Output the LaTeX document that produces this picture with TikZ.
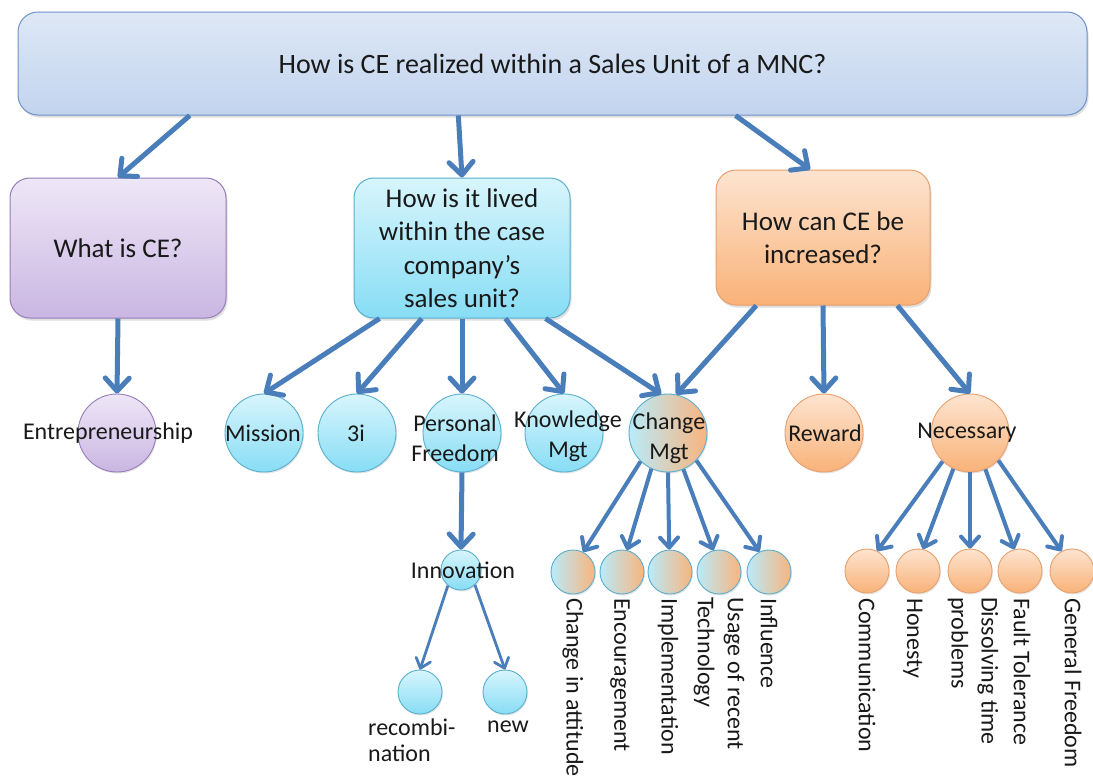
\documentclass[tikz,border=0pt]{standalone}
\usepackage{fontspec}
\setmainfont{Carlito}
\usetikzlibrary{arrows.meta,calc,shadows}
\definecolor{arrowblue}{RGB}{74,126,187}
\definecolor{tpT}{RGB}{222,232,246}
\definecolor{tpB}{RGB}{194,212,238}
\definecolor{tpD}{RGB}{110,145,200}
\definecolor{puT}{RGB}{238,231,247}
\definecolor{puB}{RGB}{202,182,226}
\definecolor{puD}{RGB}{150,125,185}
\definecolor{cyT}{RGB}{216,245,252}
\definecolor{cyB}{RGB}{135,221,245}
\definecolor{cyD}{RGB}{90,175,205}
\definecolor{orT}{RGB}{253,228,208}
\definecolor{orB}{RGB}{249,178,120}
\definecolor{orD}{RGB}{232,160,110}
\definecolor{cyM}{RGB}{185,235,250}
\definecolor{orM}{RGB}{249,180,125}
\definecolor{txt}{RGB}{25,25,25}
\begin{document}
\begin{tikzpicture}[x=1pt,y=-1pt,
  qbox/.style={rounded corners=20pt, line width=1pt, align=center, inner sep=0pt, text=txt,
    font=\fontsize{27}{33.5}\selectfont,
    drop shadow={shadow xshift=1.5pt, shadow yshift=-2.5pt, opacity=0.25}},
  bubble/.style={circle, inner sep=0pt, line width=0.9pt,
    drop shadow={shadow xshift=1pt, shadow yshift=-1.5pt, opacity=0.2}},
  big/.style={bubble, minimum size=78pt},
  small/.style={bubble, minimum size=44pt},
  cyanf/.style={top color=cyT, bottom color=cyB, draw=cyD},
  purf/.style={top color=puT, bottom color=puB, draw=puD},
  oranf/.style={top color=orT, bottom color=orB, draw=orD},
  mixf/.style={left color=cyM, right color=orM, draw=cyD},
  lbl/.style={font=\fontsize{24}{30}\selectfont, align=center, inner sep=0pt, text=txt},
  rlbl/.style={font=\fontsize{24}{30}\selectfont, rotate=-90, anchor=west, align=left, inner sep=0pt, text=txt},
  conn/.style={draw=arrowblue, line width=5pt, -{Straight Barb[length=13pt,width=24pt,round]}},
  connm/.style={draw=arrowblue, line width=4pt, -{Straight Barb[length=10pt,width=18pt,round]}},
  conns/.style={draw=arrowblue, line width=2.8pt, -{Straight Barb[length=9pt,width=15pt,round]}}
]
\useasboundingbox (0,0) rectangle (1093,780);
\fill[white] (0,0) rectangle (1093,780);

% boxes
\node[qbox, top color=tpT, bottom color=tpB, draw=tpD, minimum width=1069pt, minimum height=103pt,
  font=\fontsize{28}{32}\selectfont] (top) at (552.5,63.5) {How is CE realized within a Sales Unit of a MNC?};
\node[qbox, purf, minimum width=216pt, minimum height=140pt] (whatis) at (118,248) {What is CE?};
\node[qbox, cyanf, minimum width=216pt, minimum height=140pt] (lived) at (462,248)
  {How is it lived\\within the case\\company’s\\sales unit?};
\node[qbox, oranf, minimum width=214pt, minimum height=135pt] (incr) at (823,237.5)
  {How can CE be\\increased?};

% level-2 circles
\node[big, purf] (entre) at (117,433) {};
\node[big, cyanf] (mission) at (264,433) {};
\node[big, cyanf] (threei) at (357,433) {};
\node[big, cyanf] (pf) at (462,433) {};
\node[big, cyanf] (km) at (564,433) {};
\node[big, mixf] (cm) at (668,433) {};
\node[big, oranf] (reward) at (824,433) {};
\node[big, oranf] (nec) at (970,433) {};

% innovation branch
\node[bubble, cyanf, minimum size=40pt] (innov) at (461,570) {};
\node[small, cyanf] (recomb) at (420,692) {};
\node[small, cyanf] (new) at (505,692) {};

% change mgt children
\node[small, mixf] (c1) at (573,572) {};
\node[small, mixf] (c2) at (622,572) {};
\node[small, mixf] (c3) at (670,572) {};
\node[small, mixf] (c4) at (719,572) {};
\node[small, mixf] (c5) at (769,572) {};

% necessary children
\node[small, oranf] (n1) at (867,571) {};
\node[small, oranf] (n2) at (918,571) {};
\node[small, oranf] (n3) at (970,571) {};
\node[small, oranf] (n4) at (1020,571) {};
\node[small, oranf] (n5) at (1072,571) {};

% connectors
\draw[conn] ($(top.south west)!0.161!(top.south east)$) -- (whatis.north);
\draw[conn] ($(top.south west)!0.412!(top.south east)$) -- (lived.north);
\draw[conn] ($(top.south west)!0.671!(top.south east)$) -- ($(incr.north west)!0.44!(incr.north east)$);
\draw[conn] (whatis.south) -- (entre.north);
\draw[conn] ($(lived.south west)!0.12!(lived.south east)$) -- (mission.north);
\draw[conn] ($(lived.south west)!0.315!(lived.south east)$) -- (threei.north);
\draw[conn] (lived.south) -- (pf.north);
\draw[conn] ($(lived.south west)!0.70!(lived.south east)$) -- (km.north);
\draw[conn] ($(lived.south west)!0.885!(lived.south east)$) -- (cm.100);
\draw[conn] ($(incr.south west)!0.19!(incr.south east)$) -- (cm.78);
\draw[conn] (incr.south) -- (reward.north);
\draw[conn] ($(incr.south west)!0.846!(incr.south east)$) -- (nec.north);
\draw[conn] (pf.south) -- (innov.north);
\draw[conns] (innov.230) -- (recomb.north);
\draw[conns] (innov.313) -- (new.north);
\draw[connm] (cm.226) -- (c1.63);
\draw[connm] (cm.245) -- (c2.77);
\draw[connm] (cm.270) -- (c3.92);
\draw[connm] (cm.293) -- (c4.105);
\draw[connm] (cm.316) -- (c5.115);
\draw[connm] (nec.226) -- (n1.63);
\draw[connm] (nec.245) -- (n2.77);
\draw[connm] (nec.270) -- (n3.90);
\draw[connm] (nec.293) -- (n4.105);
\draw[connm] (nec.316) -- (n5.118);

% labels
\node[lbl] (entreT) at (108,433) {Entrepreneurship};
\node[lbl] (missionT) at (263,433) {Mission};
\node[lbl] (threeiT) at (356,433) {3i};
\node[lbl] (pfT) at (455,438) {Personal\\Freedom};
\node[lbl] (kmT) at (568,436) {Knowledge\\Mgt};
\node[lbl] (cmT) at (669,438) {Change\\Mgt};
\node[lbl] (rewardT) at (825,433) {Reward};
\node[lbl] (necT) at (967,433) {Necessary};
\node[lbl] (innovT) at (463,570) {Innovation};
\node[lbl, align=left, font=\fontsize{24}{26}\selectfont, anchor=west] (recombT) at (368,740) {recombi-\\nation};
\node[lbl] (newT) at (508,727) {new};

\node[rlbl] (c1T) at (573,598) {Change in attitude};
\node[rlbl] (c2T) at (620,598) {Encouragement};
\node[rlbl] (c3T) at (668,598) {Implementation};
\node[rlbl] (c4T) at (719,597) {Usage of recent\\Technology};
\node[rlbl] (c5T) at (769,598) {Influence};

\node[rlbl] (n1T) at (867,598) {Communication};
\node[rlbl] (n2T) at (913,598) {Honesty};
\node[rlbl] (n3T) at (973,597) {Dissolving time\\problems};
\node[rlbl] (n4T) at (1022,598) {Fault Tolerance};
\node[rlbl] (n5T) at (1073,598) {General Freedom};
\end{tikzpicture}
\end{document}
